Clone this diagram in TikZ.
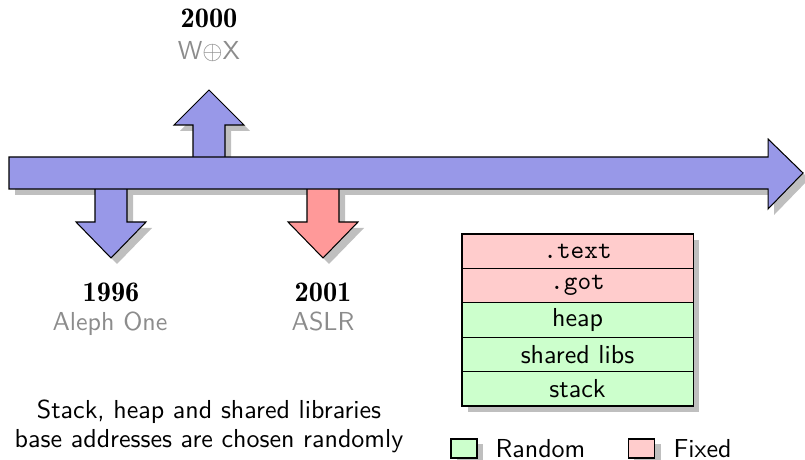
\documentclass[tikz,border=0pt]{standalone}
\usetikzlibrary{positioning}
\definecolor{arrowblue}{RGB}{152,152,232}
\definecolor{arrowred}{RGB}{255,153,153}
\definecolor{fixedred}{RGB}{255,204,204}
\definecolor{randgreen}{RGB}{204,255,204}
\definecolor{shadowgray}{RGB}{191,191,191}
\definecolor{labelgray}{RGB}{140,140,140}

% arrow outlines, drawn relative to the centre line of each arrow
\def\mainarrowpath{(9,157) -- (768,157) -- (768,139) -- (803,173) -- (768,209) -- (768,189) -- (9,189) -- cycle}
\def\downarrowpath{(-16,170) -- (16,170) -- (16,222) -- (35,222) -- (0,258) -- (-35,222) -- (-16,222) -- cycle}
\def\uparrowpath{(-16,170) -- (16,170) -- (16,125) -- (35,125) -- (0,90) -- (-35,125) -- (-16,125) -- cycle}

\begin{document}
\begin{tikzpicture}[x=0.3846pt,y=-0.3846pt,
  outline/.style={draw=black,line width=0.4pt,line join=miter},
  shade/.style={fill=shadowgray,shift={(6,6)}},
  year/.style={font=\fontsize{10.9}{13}\selectfont\rmfamily\fontseries{b}\selectfont,anchor=base,inner sep=0pt},
  event/.style={font=\sffamily,text=labelgray,anchor=base,inner sep=0pt},
  plain/.style={font=\sffamily,anchor=base,inner sep=0pt},
  segment/.style={draw=black,line width=0.4pt,minimum width=88.85pt,minimum height=13.23pt,
    inner sep=0pt,outer sep=0pt,font=\sffamily},
  keybox/.style={draw=black,line width=0.4pt,minimum width=10pt,minimum height=7.3pt,
    inner sep=0pt,outer sep=0pt}]
\useasboundingbox (0,0) rectangle (805,460);

% shadows of the timeline
\fill[shade] \mainarrowpath;
\fill[shade,shift={(111,0)}] \downarrowpath;
\fill[shade,shift={(209,0)}] \uparrowpath;
\fill[shade,shift={(323,0)}] \downarrowpath;

% event arrows and the time axis
\filldraw[outline,fill=arrowblue,shift={(111,0)}] \downarrowpath;
\filldraw[outline,fill=arrowblue,shift={(209,0)}] \uparrowpath;
\filldraw[outline,fill=arrowred,shift={(323,0)}] \downarrowpath;
\filldraw[outline,fill=arrowblue] \mainarrowpath;

% event labels
\node[year] (y2000) at (209,28) {2000};
\node[event] (wx) at (209,60) {W$\oplus$X};
\node[year] (y1996) at (111,302) {1996};
\node[event] (aleph) at (110,331) {Aleph One};
\node[year] (y2001) at (323,302) {2001};
\node[event] (aslr) at (323,331) {ASLR};

% memory layout
\fill[shadowgray] (468,240) rectangle (699,412);
\node[segment,fill=fixedred,anchor=north west] (text) at (462,234) {\ttfamily .text};
\node[segment,fill=fixedred,below=0pt of text] (got) {\ttfamily .got};
\node[segment,fill=randgreen,below=0pt of got] (heap) {heap};
\node[segment,fill=randgreen,below=0pt of heap] (libs) {shared libs};
\node[segment,fill=randgreen,below=0pt of libs] (stack) {stack};

% legend
\fill[shadowgray] (457,444) rectangle (483,464);
\node[keybox,fill=randgreen] (krand) at (464,448.5) {};
\node[plain,anchor=base west] (lrand) at (495,457) {Random};
\fill[shadowgray] (634,444) rectangle (661,464);
\node[keybox,fill=fixedred] (kfix) at (641.5,448.5) {};
\node[plain,anchor=base west] (lfix) at (673,457) {Fixed};

% note
\node[plain] (note1) at (209,418) {Stack, heap and shared libraries};
\node[plain] (note2) at (209,447) {base addresses are chosen randomly};
\end{tikzpicture}
\end{document}
